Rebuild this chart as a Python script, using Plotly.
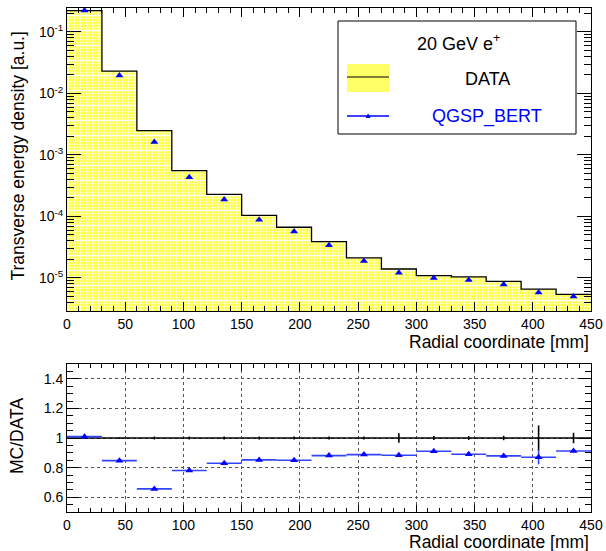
import plotly.graph_objects as go

# ---------------- data ----------------
bin_edges = [0, 30, 60, 90, 120, 150, 180, 210, 240, 270, 300, 330, 360, 390, 420, 450]
bin_centers = [15, 45, 75, 105, 135, 165, 195, 225, 255, 285, 315, 345, 375, 405, 435]
bin_halfwidth = [15] * 15

data_density = [0.222, 0.0231, 2.49e-3, 5.55e-4, 2.28e-4, 1.04e-4, 6.68e-5, 3.9e-5,
                2.12e-5, 1.40e-5, 1.09e-5, 1.04e-5, 8.8e-6, 6.6e-6, 5.4e-6]
mc_density = [0.224, 0.0196, 1.63e-3, 4.33e-4, 1.89e-4, 8.86e-5, 5.68e-5, 3.4e-5,
              1.88e-5, 1.22e-5, 1.0e-5, 9.3e-6, 7.8e-6, 5.8e-6, 5.0e-6]

data_ratio = [1.0] * 15
data_ratio_err = [0.003, 0.005, 0.01, 0.01, 0.01, 0.01, 0.01, 0.01, 0.01,
                  0.032, 0.013, 0.013, 0.015, 0.085, 0.035]
mc_ratio = [1.009, 0.847, 0.656, 0.78, 0.829, 0.852, 0.85, 0.881, 0.888,
            0.883, 0.91, 0.89, 0.879, 0.87, 0.912]
mc_ratio_err = [0.004, 0.004, 0.004, 0.004, 0.004, 0.004, 0.004, 0.004, 0.004,
                0.006, 0.006, 0.006, 0.008, 0.048, 0.01]

x_ticks = [0, 50, 100, 150, 200, 250, 300, 350, 400, 450]
logy_ticks = [1e-5, 1e-4, 1e-3, 1e-2, 1e-1]
logy_ticktext = ["10<sup>-5</sup>", "10<sup>-4</sup>", "10<sup>-3</sup>",
                 "10<sup>-2</sup>", "10<sup>-1</sup>"]
ratio_ticks = [0.6, 0.8, 1.0, 1.2, 1.4]
ratio_ticktext = ["0.6", "0.8", "1", "1.2", "1.4"]

FONT = "Liberation Sans, Arial, Helvetica, sans-serif"
YELLOW = "#ffff44"
BLUE = "#0000ff"

minor_log = [m * d for d in [1e-6, 1e-5, 1e-4, 1e-3, 1e-2, 1e-1] for m in range(2, 10)]

fig = go.Figure()

# DATA histogram fill (top)
fig.add_trace(go.Bar(
    x=bin_centers, y=data_density, width=[30] * 15,
    marker=dict(color=YELLOW, line=dict(width=0),
                pattern=dict(shape=".", bgcolor=YELLOW, fgcolor="white",
                             size=3, solidity=0.3, fillmode="replace")),
    xaxis="x", yaxis="y", showlegend=False, hoverinfo="skip"))
fig.add_trace(go.Bar(
    x=bin_centers, y=data_density, width=[30] * 15,
    marker=dict(color="rgba(0,0,0,0)", line=dict(width=0),
                pattern=dict(shape="-", bgcolor="rgba(0,0,0,0)", fgcolor="white",
                             size=15, solidity=0.1, fillmode="replace")),
    xaxis="x", yaxis="y", showlegend=False, hoverinfo="skip"))
# DATA outline
fig.add_trace(go.Scatter(
    x=bin_edges, y=data_density + [data_density[-1]], mode="lines",
    line=dict(color="black", width=1.3, shape="hv"),
    xaxis="x", yaxis="y", showlegend=False))
# MC points (top)
fig.add_trace(go.Scatter(
    x=bin_centers, y=mc_density, mode="markers",
    marker=dict(symbol="triangle-up", size=7, color=BLUE, line=dict(width=0)),
    xaxis="x", yaxis="y", showlegend=False))

# ratio panel: DATA/DATA
fig.add_trace(go.Scatter(
    x=bin_centers, y=data_ratio, mode="markers",
    marker=dict(size=0.1, color="black"),
    error_x=dict(type="data", array=bin_halfwidth, width=0, color="black", thickness=1.6),
    error_y=dict(type="data", array=data_ratio_err, width=0, color="black", thickness=1.6),
    xaxis="x2", yaxis="y2", showlegend=False))
# MC/DATA
fig.add_trace(go.Scatter(
    x=bin_centers, y=mc_ratio, mode="markers",
    marker=dict(symbol="triangle-up", size=7, color=BLUE, line=dict(width=0)),
    error_x=dict(type="data", array=bin_halfwidth, width=0, color="#3344ff", thickness=1.6),
    error_y=dict(type="data", array=mc_ratio_err, width=0, color="#3344ff", thickness=1.6),
    xaxis="x2", yaxis="y2", showlegend=False))

axis_common = dict(showline=True, linecolor="black", linewidth=1, mirror="allticks",
                   ticks="inside", tickcolor="black", zeroline=False, automargin=False,
                   tickfont=dict(family=FONT, size=14, color="black"))

top_bottom_split = (512 - 311) / 504
bottom_top = (512 - 364) / 504

fig.update_layout(
    width=606, height=551,
    margin=dict(l=67, r=15, t=8, b=39, autoexpand=False),
    paper_bgcolor="white", plot_bgcolor="white",
    barmode="overlay", bargap=0,
    font=dict(family=FONT, color="black"),
    xaxis=dict(domain=[0, 1], range=[0, 450], anchor="y",
               tickvals=x_ticks, ticklen=9, showgrid=False,
               minor=dict(ticks="inside", dtick=10, tick0=0, ticklen=5, tickcolor="black"),
               **axis_common),
    yaxis=dict(domain=[top_bottom_split, 1], type="log", range=[-5.537, -0.61], anchor="x",
               tickmode="array", tickvals=logy_ticks, ticktext=logy_ticktext,
               ticklen=14, showgrid=False,
               minor=dict(ticks="inside", tickmode="array", tickvals=minor_log,
                          ticklen=7, tickcolor="black"),
               **axis_common),
    xaxis2=dict(domain=[0, 1], range=[0, 450], anchor="y2",
                tickvals=x_ticks, ticklen=7,
                showgrid=True, gridcolor="#555555", griddash="dot", gridwidth=1,
                minor=dict(ticks="inside", dtick=10, tick0=0, ticklen=4, tickcolor="black"),
                **axis_common),
    yaxis2=dict(domain=[0, bottom_top], range=[0.5, 1.5], anchor="x2",
                tickmode="array", tickvals=ratio_ticks, ticktext=ratio_ticktext,
                ticklen=12,
                showgrid=True, gridcolor="#555555", griddash="dot", gridwidth=1,
                minor=dict(ticks="inside", dtick=0.05, tick0=0.5, ticklen=6, tickcolor="black"),
                **axis_common),
)

def px_x(p):
    return (p - 67) / 524

def px_y(p):
    return (512 - p) / 504

# legend box
fig.add_shape(type="rect", xref="paper", yref="paper",
              x0=px_x(338), x1=px_x(576), y0=px_y(134), y1=px_y(21),
              line=dict(color="black", width=1), fillcolor="white", layer="above")
fig.add_shape(type="rect", xref="paper", yref="paper",
              x0=px_x(347), x1=px_x(389), y0=px_y(92), y1=px_y(64),
              line=dict(width=0), fillcolor="#ffff66", layer="above")
fig.add_shape(type="line", xref="paper", yref="paper",
              x0=px_x(347), x1=px_x(389), y0=px_y(77), y1=px_y(77),
              line=dict(color="black", width=1.2), layer="above")
fig.add_shape(type="line", xref="paper", yref="paper",
              x0=px_x(347), x1=px_x(389), y0=px_y(116), y1=px_y(116),
              line=dict(color=BLUE, width=1.5), layer="above")

annos = [
    dict(text="▲", x=px_x(368), y=px_y(115), font=dict(size=8, color=BLUE)),
    dict(text="20 GeV e<sup>+</sup>", x=px_x(458), y=px_y(43), font=dict(size=18)),
    dict(text="DATA", x=px_x(487), y=px_y(79), font=dict(size=18)),
    dict(text="QGSP_BERT", x=px_x(487), y=px_y(116), font=dict(size=18, color=BLUE)),
    dict(text="Transverse energy density [a.u.]", x=px_x(18), y=px_y(30),
         textangle=-90, yanchor="top", font=dict(size=17.5)),
    dict(text="MC/DATA", x=px_x(17), y=px_y(436), textangle=-90, font=dict(size=17.5)),
    dict(text="Radial coordinate [mm]", x=1.0, y=px_y(342), xanchor="right",
         font=dict(size=17.5)),
    dict(text="Radial coordinate [mm]", x=1.0, y=px_y(542), xanchor="right",
         font=dict(size=17.5)),
]
for a in annos:
    a.setdefault("xanchor", "center")
    a.setdefault("yanchor", "middle")
    f = a["font"]
    f.setdefault("family", FONT)
    f.setdefault("color", "black")
    fig.add_annotation(xref="paper", yref="paper", showarrow=False, **a)

fig.write_html("out.html", config={"displayModeBar": False},
               post_script="document.body.style.margin='0px';document.body.style.overflow='hidden';")
